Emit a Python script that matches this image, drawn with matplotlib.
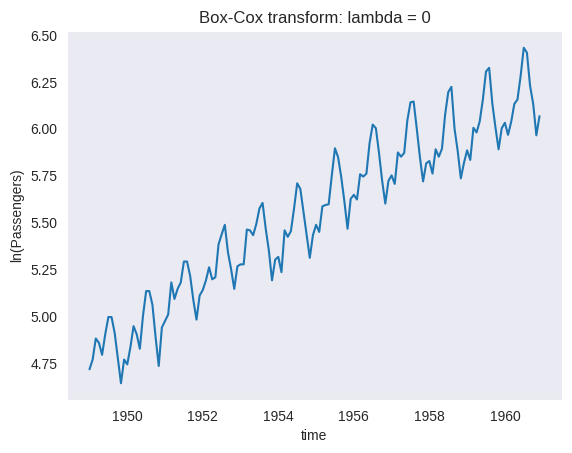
import numpy as np
import matplotlib.pyplot as plt
import seaborn as sns

# monthly airline passengers (thousands), 1949-1960
passengers = [
    112, 118, 132, 129, 121, 135, 148, 148, 136, 119, 104, 118,
    115, 126, 141, 135, 125, 149, 170, 170, 158, 133, 114, 140,
    145, 150, 178, 163, 172, 178, 199, 199, 184, 162, 146, 166,
    171, 180, 193, 181, 183, 218, 230, 242, 209, 191, 172, 194,
    196, 196, 236, 235, 229, 243, 264, 272, 237, 211, 180, 201,
    204, 188, 235, 227, 234, 264, 302, 293, 259, 229, 203, 229,
    242, 233, 267, 269, 270, 315, 364, 347, 312, 274, 237, 278,
    284, 277, 317, 313, 318, 374, 413, 405, 355, 306, 271, 306,
    315, 301, 356, 348, 355, 422, 465, 467, 404, 347, 305, 336,
    340, 318, 362, 348, 363, 435, 491, 505, 404, 359, 310, 337,
    360, 342, 406, 396, 420, 472, 548, 559, 463, 407, 362, 405,
    417, 391, 419, 461, 472, 535, 622, 606, 508, 461, 390, 432,
]
start_year = 1949
yticks = [4.75, 5.00, 5.25, 5.50, 5.75, 6.00, 6.25, 6.50]
xticks = [1950, 1952, 1954, 1956, 1958, 1960]

sns.set_style('dark')
plt.rcParams['font.family'] = ['Liberation Sans', 'DejaVu Sans']

t = start_year + np.arange(len(passengers)) / 12.0
y = np.log(passengers)

fig = plt.figure(figsize=(5.72, 4.53), dpi=100)
ax = fig.add_axes([67 / 572, 53 / 453, 495 / 572, 369 / 453])
ax.plot(t, y, color='#1f77b4', lw=1.5)
ax.set_yticks(yticks)
ax.set_yticklabels(['%.2f' % v for v in yticks])
ax.set_xticks(xticks)
ax.set_xlabel('time')
ax.set_ylabel('ln(Passengers)')
ax.set_title('Box-Cox transform: lambda = 0')
ax.grid(False)

plt.savefig('out.png', dpi=100)
